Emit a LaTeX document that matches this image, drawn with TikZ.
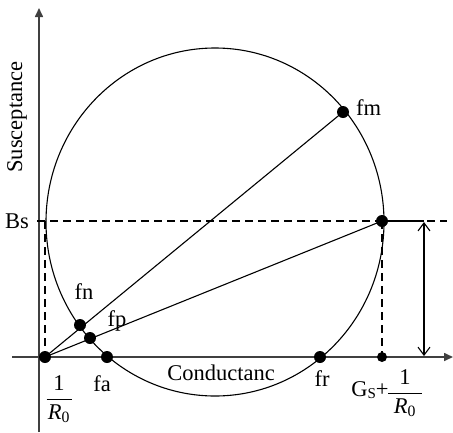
\documentclass[tikz,border=0pt]{standalone}
\usepackage{fontspec}
\setmainfont{Liberation Serif}
\usetikzlibrary{arrows.meta}
\newcommand{\myfrac}[1]{{\renewcommand{\arraystretch}{1.1}\setlength{\arrayrulewidth}{0.8pt}\begin{tabular}{@{}c@{}}\makebox[#1]{1}\\\hline\rule{0pt}{20pt}\textit{R}\textsubscript{0}\end{tabular}}}
\begin{document}
\begin{tikzpicture}[x=1pt,y=-1pt,
  dot/.style={circle,fill=black,inner sep=0pt,minimum size=12pt},
  smalldot/.style={circle,fill=black,inner sep=0pt,minimum size=10pt},
  lbl/.style={inner sep=0pt,font=\fontsize{22.5}{26}\selectfont},
  axis/.style={line width=1.6pt,draw=black!75},
  thin/.style={line width=1.1pt},
  dashline/.style={line width=1.2pt,dash pattern=on 8pt off 5pt}]
\useasboundingbox (0,0) rectangle (453,432);
% axes
\coordinate (xs) at (12,357);
\coordinate (xe) at (453,357);
\coordinate (ys) at (39,432);
\coordinate (ye) at (39,8);
\draw[axis,-{Triangle[length=9pt,width=8pt]}] (xs) -- (xe);
\draw[axis,-{Triangle[length=9pt,width=8pt]}] (ys) -- (ye);
% circle
\draw[thin] (215,222) ellipse [x radius=169pt, y radius=174pt];
% points
\node[dot] (O) at (45,357) {};
\node[dot] (fn) at (80,325) {};
\node[dot] (fp) at (90,338) {};
\node[dot] (fa) at (107,357) {};
\node[dot] (fr) at (320,357) {};
\node[smalldot] (G) at (382,357) {};
\node[dot] (B) at (382,221) {};
\node[dot] (fm) at (343,112) {};
\coordinate (bsl) at (37,221);
\coordinate (bsr) at (447,221);
\coordinate (bl) at (45,221);
\coordinate (ar) at (424,221);
\coordinate (at) at (424,222);
\coordinate (ab) at (424,356);
% lines
\draw[thin] (O.center) -- (fm.center);
\draw[thin] (O.center) -- (B.center);
\draw[dashline] (bsl) -- (bsr);
\draw[dashline] (bl) -- (O.center);
\draw[dashline] (B.center) -- (G.center);
\draw[line width=1.4pt] (B.center) -- (ar);
\draw[thin,{Straight Barb[length=8pt,width=12pt]}-{Straight Barb[length=8pt,width=12pt]}] (at) -- (ab);
% labels
\node[lbl,rotate=90] (ylab) at (17,117) {Susceptance};
\node[lbl] (bs) at (17,221) {Bs};
\node[lbl,anchor=west] (fmt) at (356,108) {fm};
\node[lbl] (fnt) at (84,292) {fn};
\node[lbl] (fpt) at (117,321) {fp};
\node[lbl] (fat) at (102,384) {fa};
\node[lbl] (frt) at (322,379) {fr};
\node[lbl] (xlab) at (221,373) {Conductanc};
\node[lbl] (r0) at (59,399) {\myfrac{25pt}};
\node[lbl] (gs) at (370,390) {G\raisebox{-2pt}{\fontsize{15}{18}\selectfont S}+};
\node[lbl] (gr) at (405,393) {\myfrac{34pt}};
\end{tikzpicture}
\end{document}
